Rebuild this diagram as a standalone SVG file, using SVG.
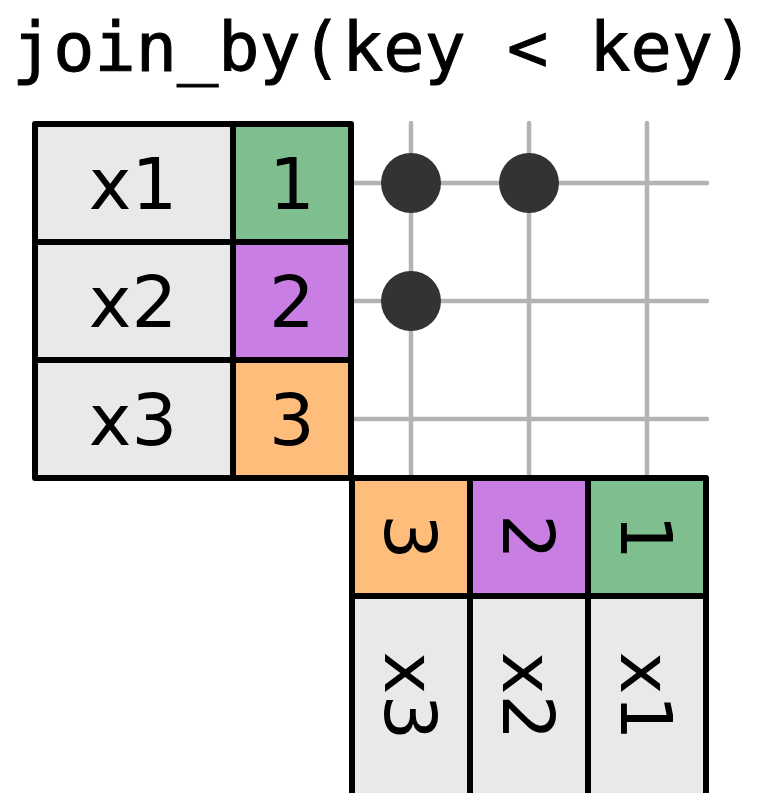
<svg xmlns="http://www.w3.org/2000/svg" width="760" height="793" viewBox="0 0 760 793">
<style>
.cell{stroke:#000;stroke-width:6;stroke-linejoin:round}
.g{fill:#e9e9e9}.c1{fill:#7fbe8e}.c2{fill:#c97ee3}.c3{fill:#ffbd7b}
.t{font-family:"DejaVu Sans",sans-serif;font-size:72px;fill:#000;text-anchor:middle}
.grid line{stroke:#b3b3b3;stroke-width:4.5;stroke-linecap:round}
.dot{fill:#333}
</style>
<rect width="760" height="793" fill="#fff"/>
<text x="12" y="71" font-family="DejaVu Sans Mono, monospace" font-size="68.5" fill="#000" stroke="#000" stroke-width="1">join_by(key &lt; key)</text>
<g id="connectors" class="grid">
<line x1="352" y1="183" x2="707" y2="183"/>
<line x1="352" y1="301" x2="707" y2="301"/>
<line x1="352" y1="419" x2="707" y2="419"/>
<line x1="411" y1="123" x2="411" y2="478"/>
<line x1="529" y1="123" x2="529" y2="478"/>
<line x1="647" y1="123" x2="647" y2="478"/>
</g>
<g id="matches">
<circle class="dot" cx="411" cy="183" r="30"/>
<circle class="dot" cx="529" cy="183" r="30"/>
<circle class="dot" cx="411" cy="301" r="30"/>
</g>
<g id="left-table">
<g id="left-x1"><rect class="cell g" x="35" y="124" width="198" height="118"/><text class="t" x="133" y="209">x1</text></g>
<g id="left-1"><rect class="cell c1" x="233" y="124" width="118" height="118"/><text class="t" x="292" y="209">1</text></g>
<g id="left-x2"><rect class="cell g" x="35" y="242" width="198" height="118"/><text class="t" x="133" y="327">x2</text></g>
<g id="left-2"><rect class="cell c2" x="233" y="242" width="118" height="118"/><text class="t" x="292" y="327">2</text></g>
<g id="left-x3"><rect class="cell g" x="35" y="360" width="198" height="118"/><text class="t" x="133" y="445">x3</text></g>
<g id="left-3"><rect class="cell c3" x="233" y="360" width="118" height="118"/><text class="t" x="292" y="445">3</text></g>
</g>
<g id="bottom-table">
<g id="bot-3"><rect class="cell c3" x="352" y="478" width="118" height="118"/><text class="t" transform="translate(411,537) rotate(90)" y="26">3</text></g>
<g id="bot-2"><rect class="cell c2" x="470" y="478" width="118" height="118"/><text class="t" transform="translate(529,537) rotate(90)" y="26">2</text></g>
<g id="bot-1"><rect class="cell c1" x="588" y="478" width="118" height="118"/><text class="t" transform="translate(647,537) rotate(90)" y="26">1</text></g>
<g id="bot-x3"><rect class="cell g" x="352" y="596" width="118" height="210"/><text class="t" transform="translate(411,696) rotate(90)" y="26">x3</text></g>
<g id="bot-x2"><rect class="cell g" x="470" y="596" width="118" height="210"/><text class="t" transform="translate(529,696) rotate(90)" y="26">x2</text></g>
<g id="bot-x1"><rect class="cell g" x="588" y="596" width="118" height="210"/><text class="t" transform="translate(647,696) rotate(90)" y="26">x1</text></g>
</g>
</svg>
